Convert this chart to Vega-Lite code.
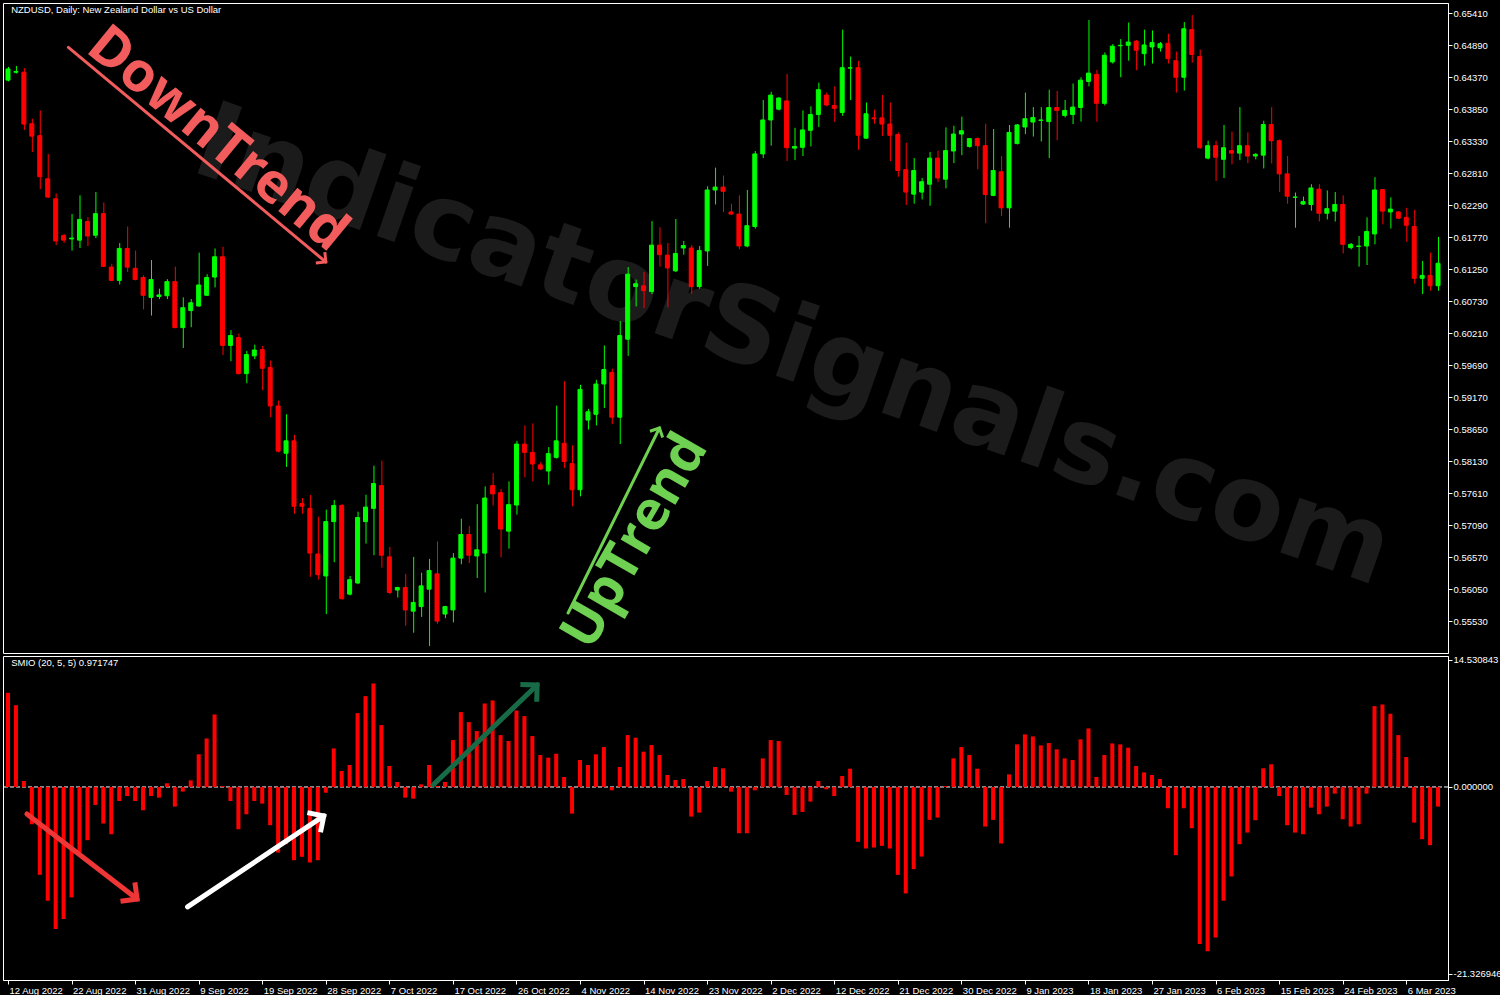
{
"$schema": "https://vega.github.io/schema/vega-lite/v6.json",
"background": "#000000",
"padding": {"left": 2, "top": 2, "right": 0, "bottom": 0},
"bounds": "flush",
"config": {
  "view": {"stroke": "#ffffff", "strokeWidth": 1, "fill": "#000000"},
  "axis": {"labelColor": "#ffffff", "tickColor": "#ffffff", "domainColor": "#ffffff", "labelFont": "Liberation Sans", "labelFontSize": 9.5, "grid": false, "tickSize": 4, "labelOverlap": false, "labelFlush": false, "labelBound": false}
},
"spacing": 3,
"datasets": {
"bars": [
{"i":0,"o":0.64319,"h":0.64534,"l":0.64298,"c":0.64501,"s":10.76},
{"i":1,"o":0.64447,"h":0.64548,"l":0.64427,"c":0.64460,"s":9.35},
{"i":2,"o":0.64447,"h":0.64514,"l":0.63510,"c":0.63605,"s":0.68},
{"i":3,"o":0.63611,"h":0.63692,"l":0.63153,"c":0.63409,"s":-4.26},
{"i":4,"o":0.63416,"h":0.63827,"l":0.62547,"c":0.62749,"s":-10.04},
{"i":5,"o":0.62716,"h":0.63120,"l":0.62406,"c":0.62419,"s":-13.0},
{"i":6,"o":0.62392,"h":0.62480,"l":0.61638,"c":0.61705,"s":-16.24},
{"i":7,"o":0.61793,"h":0.61820,"l":0.61672,"c":0.61719,"s":-15.1},
{"i":8,"o":0.61739,"h":0.62143,"l":0.61550,"c":0.61752,"s":-12.62},
{"i":9,"o":0.61719,"h":0.62446,"l":0.61591,"c":0.62055,"s":-7.49},
{"i":10,"o":0.62022,"h":0.62096,"l":0.61624,"c":0.61786,"s":-6.08},
{"i":11,"o":0.61799,"h":0.62500,"l":0.61752,"c":0.62150,"s":-2.05},
{"i":12,"o":0.62150,"h":0.62332,"l":0.61281,"c":0.61294,"s":-4.18},
{"i":13,"o":0.61281,"h":0.61335,"l":0.61052,"c":0.61065,"s":-5.40},
{"i":14,"o":0.61065,"h":0.61672,"l":0.60998,"c":0.61584,"s":-1.60},
{"i":15,"o":0.61584,"h":0.61941,"l":0.61200,"c":0.61281,"s":-1.03},
{"i":16,"o":0.61261,"h":0.61550,"l":0.61065,"c":0.61079,"s":-1.60},
{"i":17,"o":0.61112,"h":0.61146,"l":0.60594,"c":0.60823,"s":-2.66},
{"i":18,"o":0.60789,"h":0.61395,"l":0.60493,"c":0.61079,"s":-1.03},
{"i":19,"o":0.60803,"h":0.60930,"l":0.60762,"c":0.60829,"s":-1.22},
{"i":20,"o":0.60816,"h":0.61085,"l":0.60762,"c":0.61045,"s":0.42},
{"i":21,"o":0.61045,"h":0.61288,"l":0.60290,"c":0.60297,"s":-2.24},
{"i":22,"o":0.60297,"h":0.60789,"l":0.59967,"c":0.60621,"s":-0.53},
{"i":23,"o":0.60574,"h":0.60762,"l":0.60304,"c":0.60701,"s":0.76},
{"i":24,"o":0.60648,"h":0.61516,"l":0.60641,"c":0.60991,"s":3.73},
{"i":25,"o":0.60823,"h":0.61166,"l":0.60816,"c":0.61112,"s":5.55},
{"i":26,"o":0.61119,"h":0.61584,"l":0.60951,"c":0.61449,"s":8.29},
{"i":27,"o":0.61449,"h":0.61611,"l":0.59853,"c":0.60008,"s":0.11},
{"i":28,"o":0.60008,"h":0.60257,"l":0.59752,"c":0.60169,"s":-1.60},
{"i":29,"o":0.60136,"h":0.60203,"l":0.59536,"c":0.59550,"s":-4.83},
{"i":30,"o":0.59550,"h":0.59920,"l":0.59395,"c":0.59860,"s":-3.12},
{"i":31,"o":0.59839,"h":0.60021,"l":0.59785,"c":0.59934,"s":-1.60},
{"i":32,"o":0.59940,"h":0.60001,"l":0.59280,"c":0.59637,"s":-1.90},
{"i":33,"o":0.59651,"h":0.59765,"l":0.58842,"c":0.59024,"s":-4.37},
{"i":34,"o":0.59024,"h":0.59112,"l":0.58270,"c":0.58290,"s":-7.49},
{"i":35,"o":0.58256,"h":0.58889,"l":0.58034,"c":0.58458,"s":-6.54},
{"i":36,"o":0.58458,"h":0.58553,"l":0.57273,"c":0.57394,"s":-8.37},
{"i":37,"o":0.57441,"h":0.57529,"l":0.57273,"c":0.57394,"s":-7.98},
{"i":38,"o":0.57360,"h":0.57576,"l":0.56249,"c":0.56633,"s":-8.63},
{"i":39,"o":0.56619,"h":0.57226,"l":0.56202,"c":0.56283,"s":-8.37},
{"i":40,"o":0.56262,"h":0.57340,"l":0.55643,"c":0.57145,"s":-0.65},
{"i":41,"o":0.57145,"h":0.57495,"l":0.56485,"c":0.57408,"s":4.41},
{"i":42,"o":0.57408,"h":0.57428,"l":0.55879,"c":0.55892,"s":1.83},
{"i":43,"o":0.55966,"h":0.56262,"l":0.55946,"c":0.56202,"s":2.51},
{"i":44,"o":0.56148,"h":0.57307,"l":0.56128,"c":0.57212,"s":8.44},
{"i":45,"o":0.57145,"h":0.57583,"l":0.56788,"c":0.57381,"s":10.38},
{"i":46,"o":0.57360,"h":0.58054,"l":0.56599,"c":0.57765,"s":11.83},
{"i":47,"o":0.57731,"h":0.58135,"l":0.56397,"c":0.56599,"s":7.07},
{"i":48,"o":0.56572,"h":0.56734,"l":0.55966,"c":0.55993,"s":2.40},
{"i":49,"o":0.56033,"h":0.56087,"l":0.55912,"c":0.56074,"s":0.57},
{"i":50,"o":0.56074,"h":0.56296,"l":0.55454,"c":0.55710,"s":-1.22},
{"i":51,"o":0.55690,"h":0.56572,"l":0.55340,"c":0.55832,"s":-1.33},
{"i":52,"o":0.55764,"h":0.56316,"l":0.55596,"c":0.56101,"s":0.30},
{"i":53,"o":0.56047,"h":0.56539,"l":0.55124,"c":0.56350,"s":2.51},
{"i":54,"o":0.56296,"h":0.56822,"l":0.55488,"c":0.55528,"s":0.10},
{"i":55,"o":0.55643,"h":0.55777,"l":0.55575,"c":0.55764,"s":0.57},
{"i":56,"o":0.55710,"h":0.56633,"l":0.55508,"c":0.56552,"s":5.36},
{"i":57,"o":0.56552,"h":0.57192,"l":0.56451,"c":0.56936,"s":8.56},
{"i":58,"o":0.56936,"h":0.57077,"l":0.56471,"c":0.56599,"s":7.41},
{"i":59,"o":0.56586,"h":0.57428,"l":0.56229,"c":0.56687,"s":6.39},
{"i":60,"o":0.56633,"h":0.57718,"l":0.55993,"c":0.57529,"s":9.54},
{"i":61,"o":0.57731,"h":0.57933,"l":0.57408,"c":0.57596,"s":9.89},
{"i":62,"o":0.57616,"h":0.57677,"l":0.56566,"c":0.57024,"s":5.93},
{"i":63,"o":0.56990,"h":0.57798,"l":0.56707,"c":0.57421,"s":5.25},
{"i":64,"o":0.57414,"h":0.58458,"l":0.57259,"c":0.58405,"s":8.75},
{"i":65,"o":0.58405,"h":0.58708,"l":0.57866,"c":0.58270,"s":8.10},
{"i":66,"o":0.58270,"h":0.58741,"l":0.57798,"c":0.58081,"s":5.82},
{"i":67,"o":0.58068,"h":0.58115,"l":0.57980,"c":0.58000,"s":3.65},
{"i":68,"o":0.57967,"h":0.58357,"l":0.57745,"c":0.58250,"s":3.35},
{"i":69,"o":0.58189,"h":0.59031,"l":0.58169,"c":0.58458,"s":3.80},
{"i":70,"o":0.58418,"h":0.59428,"l":0.58014,"c":0.58122,"s":1.14},
{"i":71,"o":0.58088,"h":0.58384,"l":0.57394,"c":0.57663,"s":-3.04},
{"i":72,"o":0.57663,"h":0.59368,"l":0.57556,"c":0.59294,"s":3.08},
{"i":73,"o":0.58795,"h":0.58977,"l":0.58640,"c":0.58930,"s":2.51},
{"i":74,"o":0.58889,"h":0.59449,"l":0.58708,"c":0.59381,"s":3.73},
{"i":75,"o":0.59381,"h":0.60008,"l":0.58991,"c":0.59617,"s":4.56},
{"i":76,"o":0.59570,"h":0.59630,"l":0.58728,"c":0.58842,"s":-0.38},
{"i":77,"o":0.58842,"h":0.60405,"l":0.58405,"c":0.60169,"s":2.28},
{"i":78,"o":0.60109,"h":0.61281,"l":0.59839,"c":0.61166,"s":5.93},
{"i":79,"o":0.60964,"h":0.61079,"l":0.60641,"c":0.61011,"s":5.63},
{"i":80,"o":0.60978,"h":0.61200,"l":0.60614,"c":0.60897,"s":4.03},
{"i":81,"o":0.60883,"h":0.62028,"l":0.60843,"c":0.61638,"s":4.79},
{"i":82,"o":0.61638,"h":0.61927,"l":0.61288,"c":0.61483,"s":3.65},
{"i":83,"o":0.61476,"h":0.61672,"l":0.60627,"c":0.61267,"s":1.37},
{"i":84,"o":0.61220,"h":0.62062,"l":0.61200,"c":0.61503,"s":0.80},
{"i":85,"o":0.61591,"h":0.61705,"l":0.61483,"c":0.61631,"s":0.91},
{"i":86,"o":0.61591,"h":0.61638,"l":0.60850,"c":0.60964,"s":-3.38},
{"i":87,"o":0.60964,"h":0.61624,"l":0.60930,"c":0.61550,"s":-2.93},
{"i":88,"o":0.61543,"h":0.62594,"l":0.61301,"c":0.62534,"s":0.68},
{"i":89,"o":0.62534,"h":0.62897,"l":0.62298,"c":0.62581,"s":2.28},
{"i":90,"o":0.62581,"h":0.62769,"l":0.62177,"c":0.62513,"s":2.13},
{"i":91,"o":0.62177,"h":0.62311,"l":0.62129,"c":0.62143,"s":-0.53},
{"i":92,"o":0.62143,"h":0.62446,"l":0.61570,"c":0.61624,"s":-5.29},
{"i":93,"o":0.61624,"h":0.62534,"l":0.61604,"c":0.61954,"s":-5.29},
{"i":94,"o":0.61941,"h":0.63167,"l":0.61907,"c":0.63120,"s":-0.38},
{"i":95,"o":0.63120,"h":0.63995,"l":0.63052,"c":0.63672,"s":3.27},
{"i":96,"o":0.63672,"h":0.64130,"l":0.63254,"c":0.64076,"s":5.36},
{"i":97,"o":0.63847,"h":0.64043,"l":0.63827,"c":0.64029,"s":5.25},
{"i":98,"o":0.63982,"h":0.64420,"l":0.63005,"c":0.63221,"s":-0.91},
{"i":99,"o":0.63214,"h":0.63544,"l":0.63019,"c":0.63241,"s":-3.19},
{"i":100,"o":0.63227,"h":0.63827,"l":0.63086,"c":0.63510,"s":-2.85},
{"i":101,"o":0.63504,"h":0.63894,"l":0.63241,"c":0.63760,"s":-1.67},
{"i":102,"o":0.63760,"h":0.64278,"l":0.63557,"c":0.64164,"s":0.68},
{"i":103,"o":0.64076,"h":0.64117,"l":0.63894,"c":0.63915,"s":-0.27},
{"i":104,"o":0.63908,"h":0.64218,"l":0.63638,"c":0.63861,"s":-1.03},
{"i":105,"o":0.63793,"h":0.65140,"l":0.63739,"c":0.64521,"s":1.25},
{"i":106,"o":0.64514,"h":0.64703,"l":0.63995,"c":0.64521,"s":2.09},
{"i":107,"o":0.64521,"h":0.64635,"l":0.63187,"c":0.63423,"s":-6.27},
{"i":108,"o":0.63376,"h":0.63955,"l":0.63370,"c":0.63773,"s":-7.03},
{"i":109,"o":0.63706,"h":0.63840,"l":0.63611,"c":0.63692,"s":-6.92},
{"i":110,"o":0.63706,"h":0.64076,"l":0.63409,"c":0.63605,"s":-6.73},
{"i":111,"o":0.63605,"h":0.63955,"l":0.63005,"c":0.63423,"s":-7.03},
{"i":112,"o":0.63436,"h":0.63470,"l":0.62749,"c":0.62850,"s":-10.04},
{"i":113,"o":0.62864,"h":0.63301,"l":0.62291,"c":0.62500,"s":-12.17},
{"i":114,"o":0.62466,"h":0.63052,"l":0.62311,"c":0.62850,"s":-9.39},
{"i":115,"o":0.62500,"h":0.62729,"l":0.62379,"c":0.62668,"s":-7.95},
{"i":116,"o":0.62628,"h":0.63153,"l":0.62278,"c":0.63052,"s":-3.76},
{"i":117,"o":0.63052,"h":0.63174,"l":0.62662,"c":0.62729,"s":-3.50},
{"i":118,"o":0.62709,"h":0.63551,"l":0.62561,"c":0.63174,"s":0.11},
{"i":119,"o":0.63167,"h":0.63578,"l":0.62971,"c":0.63443,"s":3.27},
{"i":120,"o":0.63443,"h":0.63726,"l":0.63100,"c":0.63497,"s":4.56},
{"i":121,"o":0.63241,"h":0.63375,"l":0.63221,"c":0.63369,"s":3.65},
{"i":122,"o":0.63369,"h":0.63389,"l":0.62870,"c":0.63254,"s":2.09},
{"i":123,"o":0.63254,"h":0.63611,"l":0.61995,"c":0.62460,"s":-4.52},
{"i":124,"o":0.62446,"h":0.63524,"l":0.62433,"c":0.62850,"s":-3.76},
{"i":125,"o":0.62830,"h":0.63086,"l":0.62109,"c":0.62244,"s":-6.46},
{"i":126,"o":0.62244,"h":0.63591,"l":0.61921,"c":0.63470,"s":1.44},
{"i":127,"o":0.63288,"h":0.63605,"l":0.63275,"c":0.63591,"s":4.87},
{"i":128,"o":0.63557,"h":0.64117,"l":0.63443,"c":0.63692,"s":6.01},
{"i":129,"o":0.63638,"h":0.63881,"l":0.63403,"c":0.63713,"s":5.78},
{"i":130,"o":0.63665,"h":0.63881,"l":0.63322,"c":0.63672,"s":4.75},
{"i":131,"o":0.63645,"h":0.64164,"l":0.63052,"c":0.63874,"s":5.02},
{"i":132,"o":0.63874,"h":0.64144,"l":0.63342,"c":0.63827,"s":4.30},
{"i":133,"o":0.63746,"h":0.63995,"l":0.63713,"c":0.63827,"s":3.27},
{"i":134,"o":0.63760,"h":0.64265,"l":0.63605,"c":0.63881,"s":3.08},
{"i":135,"o":0.63874,"h":0.64366,"l":0.63645,"c":0.64319,"s":5.44},
{"i":136,"o":0.64298,"h":0.65295,"l":0.64218,"c":0.64433,"s":6.69},
{"i":137,"o":0.64413,"h":0.64487,"l":0.63645,"c":0.63942,"s":1.14},
{"i":138,"o":0.63942,"h":0.64770,"l":0.63908,"c":0.64723,"s":3.65},
{"i":139,"o":0.64615,"h":0.64905,"l":0.64588,"c":0.64871,"s":4.98},
{"i":140,"o":0.64878,"h":0.64986,"l":0.64366,"c":0.64885,"s":4.87},
{"i":141,"o":0.64885,"h":0.65255,"l":0.64635,"c":0.64938,"s":4.49},
{"i":142,"o":0.64952,"h":0.64972,"l":0.64480,"c":0.64804,"s":2.40},
{"i":143,"o":0.64750,"h":0.65140,"l":0.64554,"c":0.64891,"s":1.67},
{"i":144,"o":0.64858,"h":0.65127,"l":0.64588,"c":0.64932,"s":1.37},
{"i":145,"o":0.64844,"h":0.64938,"l":0.64783,"c":0.64911,"s":0.91},
{"i":146,"o":0.64918,"h":0.65073,"l":0.64588,"c":0.64669,"s":-2.43},
{"i":147,"o":0.64635,"h":0.64783,"l":0.64117,"c":0.64366,"s":-7.79},
{"i":148,"o":0.64366,"h":0.65262,"l":0.64150,"c":0.65154,"s":-2.43},
{"i":149,"o":0.65140,"h":0.65376,"l":0.64602,"c":0.64736,"s":-4.71},
{"i":150,"o":0.64703,"h":0.64817,"l":0.63207,"c":0.63221,"s":-17.95},
{"i":151,"o":0.63052,"h":0.63335,"l":0.63032,"c":0.63254,"s":-18.78},
{"i":152,"o":0.63254,"h":0.63335,"l":0.62682,"c":0.63066,"s":-17.19},
{"i":153,"o":0.63032,"h":0.63591,"l":0.62729,"c":0.63221,"s":-13.0},
{"i":154,"o":0.63174,"h":0.63483,"l":0.62951,"c":0.63133,"s":-10.23},
{"i":155,"o":0.63133,"h":0.63881,"l":0.63019,"c":0.63254,"s":-6.54},
{"i":156,"o":0.63254,"h":0.63470,"l":0.62971,"c":0.63086,"s":-5.21},
{"i":157,"o":0.63086,"h":0.63133,"l":0.63032,"c":0.63113,"s":-3.80},
{"i":158,"o":0.63100,"h":0.63659,"l":0.62884,"c":0.63598,"s":2.13},
{"i":159,"o":0.63598,"h":0.63881,"l":0.62965,"c":0.63335,"s":2.59},
{"i":160,"o":0.63335,"h":0.63355,"l":0.62500,"c":0.62796,"s":-1.03},
{"i":161,"o":0.62796,"h":0.63086,"l":0.62311,"c":0.62433,"s":-4.37},
{"i":162,"o":0.62415,"h":0.62493,"l":0.61921,"c":0.62419,"s":-5.21},
{"i":163,"o":0.62305,"h":0.62426,"l":0.62291,"c":0.62345,"s":-5.40},
{"i":164,"o":0.62298,"h":0.62628,"l":0.62197,"c":0.62567,"s":-2.36},
{"i":165,"o":0.62547,"h":0.62628,"l":0.62022,"c":0.62156,"s":-3.12},
{"i":166,"o":0.62156,"h":0.62527,"l":0.62055,"c":0.62231,"s":-2.24},
{"i":167,"o":0.62190,"h":0.62500,"l":0.62022,"c":0.62298,"s":-0.76},
{"i":168,"o":0.62298,"h":0.62446,"l":0.61503,"c":0.61651,"s":-3.69},
{"i":169,"o":0.61597,"h":0.61672,"l":0.61570,"c":0.61651,"s":-4.52},
{"i":170,"o":0.61617,"h":0.61786,"l":0.61288,"c":0.61624,"s":-4.26},
{"i":171,"o":0.61624,"h":0.62089,"l":0.61314,"c":0.61860,"s":-0.76},
{"i":172,"o":0.61820,"h":0.62743,"l":0.61651,"c":0.62534,"s":9.24},
{"i":173,"o":0.62541,"h":0.62547,"l":0.61975,"c":0.62190,"s":9.43},
{"i":174,"o":0.62177,"h":0.62415,"l":0.61907,"c":0.62224,"s":8.37},
{"i":175,"o":0.62177,"h":0.62190,"l":0.62062,"c":0.62076,"s":5.93},
{"i":176,"o":0.62089,"h":0.62244,"l":0.61692,"c":0.61961,"s":3.42},
{"i":177,"o":0.61941,"h":0.62210,"l":0.61012,"c":0.61099,"s":-4.07},
{"i":178,"o":0.61099,"h":0.61382,"l":0.60843,"c":0.61146,"s":-5.97},
{"i":179,"o":0.61146,"h":0.61516,"l":0.60897,"c":0.60978,"s":-6.65},
{"i":180,"o":0.60978,"h":0.61772,"l":0.60897,"c":0.61343,"s":-2.24}
]
},
"vconcat": [
{
"width": 1445, "height": 650,
"layer": [
{"data": {"values": [{"x": 98.8, "y": 0.5997, "t": "IndicatorSignals.com"}]},
 "mark": {"type": "text", "font": "DejaVu Sans", "fontWeight": "bold", "fontSize": 106, "angle": 19.3, "color": "#1b1b1b", "align": "center", "baseline": "middle"},
 "encoding": {
   "x": {"field": "x", "type": "quantitative", "scale": {"domain": [0, 180.625], "nice": false, "zero": false}, "axis": null},
   "y": {"field": "y", "type": "quantitative", "scale": {"domain": [0.5501, 0.655725], "nice": false, "zero": false}, "axis": {"orient": "right", "title": null, "values": [0.6541,0.6489,0.6437,0.6385,0.6333,0.6281,0.6229,0.6177,0.6125,0.6073,0.6021,0.5969,0.5917,0.5865,0.5813,0.5761,0.5709,0.5657,0.5605,0.5553], "format": ".5f", "labelPadding": 1, "labelBaseline": "middle"}},
   "text": {"field": "t"}}},
{"data": {"values": [{"x": 0.4, "y": 0.65459, "t": "NZDUSD, Daily:  New Zealand Dollar vs US Dollar"}]},
 "mark": {"type": "text", "font": "Liberation Sans", "fontSize": 9.5, "color": "#ffffff", "align": "left", "baseline": "middle"},
 "encoding": {
   "x": {"field": "x", "type": "quantitative", "scale": {"domain": [0, 180.625], "nice": false, "zero": false}, "axis": null},
   "y": {"field": "y", "type": "quantitative", "scale": {"domain": [0.5501, 0.655725], "nice": false, "zero": false}, "axis": {"orient": "right", "title": null, "values": [0.6541,0.6489,0.6437,0.6385,0.6333,0.6281,0.6229,0.6177,0.6125,0.6073,0.6021,0.5969,0.5917,0.5865,0.5813,0.5761,0.5709,0.5657,0.5605,0.5553], "format": ".5f", "labelPadding": 1, "labelBaseline": "middle"}},
   "text": {"field": "t"}}},
{"data": {"name": "bars"},
 "mark": {"type": "rule", "strokeWidth": 1, "clip": true, "xOffset": 0.5},
 "encoding": {
   "x": {"field": "i", "type": "quantitative", "scale": {"domain": [0, 180.625], "nice": false, "zero": false}, "axis": null},
   "y": {"field": "l", "type": "quantitative", "scale": {"domain": [0.5501, 0.655725], "nice": false, "zero": false}, "axis": {"orient": "right", "title": null, "values": [0.6541,0.6489,0.6437,0.6385,0.6333,0.6281,0.6229,0.6177,0.6125,0.6073,0.6021,0.5969,0.5917,0.5865,0.5813,0.5761,0.5709,0.5657,0.5605,0.5553], "format": ".5f", "labelPadding": 1, "labelBaseline": "middle"}},
   "y2": {"field": "h"},
   "color": {"condition": {"test": "datum.c >= datum.o", "value": "#00ff00"}, "value": "#ff0000"}}},
{"data": {"name": "bars"},
 "mark": {"type": "bar", "width": 4, "strokeWidth": 1, "clip": true},
 "encoding": {
   "x": {"field": "i", "type": "quantitative", "scale": {"domain": [0, 180.625], "nice": false, "zero": false}, "axis": null},
   "y": {"field": "o", "type": "quantitative", "scale": {"domain": [0.5501, 0.655725], "nice": false, "zero": false}, "axis": {"orient": "right", "title": null, "values": [0.6541,0.6489,0.6437,0.6385,0.6333,0.6281,0.6229,0.6177,0.6125,0.6073,0.6021,0.5969,0.5917,0.5865,0.5813,0.5761,0.5709,0.5657,0.5605,0.5553], "format": ".5f", "labelPadding": 1, "labelBaseline": "middle"}},
   "y2": {"field": "c"},
   "color": {"condition": {"test": "datum.c >= datum.o", "value": "#00ff00"}, "value": "#ff0000"},
   "stroke": {"condition": {"test": "datum.c >= datum.o", "value": "#00ff00"}, "value": "#ff0000"}}},
{"data": {"values": [{"x": 7.6, "y": 0.64851, "x2": 40, "y2": 0.61364}]},
 "mark": {"type": "rule", "strokeWidth": 3, "color": "#f25c5c", "strokeCap": "round"},
 "encoding": {
   "x": {"field": "x", "type": "quantitative", "scale": {"domain": [0, 180.625], "nice": false, "zero": false}, "axis": null},
   "y": {"field": "y", "type": "quantitative", "scale": {"domain": [0.5501, 0.655725], "nice": false, "zero": false}, "axis": {"orient": "right", "title": null, "values": [0.6541,0.6489,0.6437,0.6385,0.6333,0.6281,0.6229,0.6177,0.6125,0.6073,0.6021,0.5969,0.5917,0.5865,0.5813,0.5761,0.5709,0.5657,0.5605,0.5553], "format": ".5f", "labelPadding": 1, "labelBaseline": "middle"}},
   "x2": {"field": "x2"}, "y2": {"field": "y2"}}},
{"data": {"values": [{"x": 40, "y": 0.61364}]},
 "mark": {"type": "point", "shape": "M-1,-1L0,0L-1,1", "filled": false, "stroke": "#f25c5c", "strokeWidth": 3, "size": 200, "angle": 39.7, "opacity": 1},
 "encoding": {
   "x": {"field": "x", "type": "quantitative", "scale": {"domain": [0, 180.625], "nice": false, "zero": false}, "axis": null},
   "y": {"field": "y", "type": "quantitative", "scale": {"domain": [0.5501, 0.655725], "nice": false, "zero": false}, "axis": {"orient": "right", "title": null, "values": [0.6541,0.6489,0.6437,0.6385,0.6333,0.6281,0.6229,0.6177,0.6125,0.6073,0.6021,0.5969,0.5917,0.5865,0.5813,0.5761,0.5709,0.5657,0.5605,0.5553], "format": ".5f", "labelPadding": 1, "labelBaseline": "middle"}}}},
{"data": {"values": [{"x": 26.4, "y": 0.63363, "t": "DownTrend"}]},
 "mark": {"type": "text", "font": "Open Sans", "fontWeight": "bold", "fontSize": 55, "angle": 39.5, "color": "#f25c5c", "align": "center", "baseline": "middle"},
 "encoding": {
   "x": {"field": "x", "type": "quantitative", "scale": {"domain": [0, 180.625], "nice": false, "zero": false}, "axis": null},
   "y": {"field": "y", "type": "quantitative", "scale": {"domain": [0.5501, 0.655725], "nice": false, "zero": false}, "axis": {"orient": "right", "title": null, "values": [0.6541,0.6489,0.6437,0.6385,0.6333,0.6281,0.6229,0.6177,0.6125,0.6073,0.6021,0.5969,0.5917,0.5865,0.5813,0.5761,0.5709,0.5657,0.5605,0.5553], "format": ".5f", "labelPadding": 1, "labelBaseline": "middle"}},
   "text": {"field": "t"}}},
{"data": {"values": [{"x": 70.5, "y": 0.5566, "x2": 82, "y2": 0.58666}]},
 "mark": {"type": "rule", "strokeWidth": 3, "color": "#6fd152", "strokeCap": "round"},
 "encoding": {
   "x": {"field": "x", "type": "quantitative", "scale": {"domain": [0, 180.625], "nice": false, "zero": false}, "axis": null},
   "y": {"field": "y", "type": "quantitative", "scale": {"domain": [0.5501, 0.655725], "nice": false, "zero": false}, "axis": {"orient": "right", "title": null, "values": [0.6541,0.6489,0.6437,0.6385,0.6333,0.6281,0.6229,0.6177,0.6125,0.6073,0.6021,0.5969,0.5917,0.5865,0.5813,0.5761,0.5709,0.5657,0.5605,0.5553], "format": ".5f", "labelPadding": 1, "labelBaseline": "middle"}},
   "x2": {"field": "x2"}, "y2": {"field": "y2"}}},
{"data": {"values": [{"x": 82, "y": 0.58666}]},
 "mark": {"type": "point", "shape": "M-1,-1L0,0L-1,1", "filled": false, "stroke": "#6fd152", "strokeWidth": 3, "size": 200, "angle": 296.4, "opacity": 1},
 "encoding": {
   "x": {"field": "x", "type": "quantitative", "scale": {"domain": [0, 180.625], "nice": false, "zero": false}, "axis": null},
   "y": {"field": "y", "type": "quantitative", "scale": {"domain": [0.5501, 0.655725], "nice": false, "zero": false}, "axis": {"orient": "right", "title": null, "values": [0.6541,0.6489,0.6437,0.6385,0.6333,0.6281,0.6229,0.6177,0.6125,0.6073,0.6021,0.5969,0.5917,0.5865,0.5813,0.5761,0.5709,0.5657,0.5605,0.5553], "format": ".5f", "labelPadding": 1, "labelBaseline": "middle"}}}},
{"data": {"values": [{"x": 78.9, "y": 0.5683, "t": "UpTrend"}]},
 "mark": {"type": "text", "font": "Open Sans", "fontWeight": "bold", "fontSize": 55, "angle": 300, "color": "#6fd152", "align": "center", "baseline": "middle"},
 "encoding": {
   "x": {"field": "x", "type": "quantitative", "scale": {"domain": [0, 180.625], "nice": false, "zero": false}, "axis": null},
   "y": {"field": "y", "type": "quantitative", "scale": {"domain": [0.5501, 0.655725], "nice": false, "zero": false}, "axis": {"orient": "right", "title": null, "values": [0.6541,0.6489,0.6437,0.6385,0.6333,0.6281,0.6229,0.6177,0.6125,0.6073,0.6021,0.5969,0.5917,0.5865,0.5813,0.5761,0.5709,0.5657,0.5605,0.5553], "format": ".5f", "labelPadding": 1, "labelBaseline": "middle"}},
   "text": {"field": "t"}}}
]
},
{
"width": 1445, "height": 324,
"layer": [
{"data": {"values": [{"x": 90, "y": 0}]},
 "mark": {"type": "rule", "color": "#ffffff", "strokeWidth": 1, "strokeDash": [4, 2]},
 "encoding": {
   "y": {"field": "y", "type": "quantitative", "scale": {"domain": [-22.06, 14.97], "nice": false, "zero": false},
         "axis": {"orient": "right", "title": null, "values": [14.530843, 0, -21.326946], "labelExpr": "replace(format(datum.value, '.6f'), '\u2212', '-')", "labelPadding": 1, "labelBaseline": "middle"}}}},
{"data": {"name": "bars"},
 "mark": {"type": "bar", "width": 4, "color": "#ff0000", "clip": true},
 "encoding": {
   "x": {"field": "i", "type": "quantitative", "scale": {"domain": [0, 180.625], "nice": false, "zero": false},
         "axis": {"orient": "bottom", "title": null, "values": [0,8,16,24,32,40,48,56,64,72,80,88,96,104,112,120,128,136,144,152,160,168,176], "labelAlign": "left", "labelBaseline": "top", "labelPadding": 1, "labelOffset": 1, "tickSize": 4,
                  "labelExpr": "['12 Aug 2022','22 Aug 2022','31 Aug 2022','9 Sep 2022','19 Sep 2022','28 Sep 2022','7 Oct 2022','17 Oct 2022','26 Oct 2022','4 Nov 2022','14 Nov 2022','23 Nov 2022','2 Dec 2022','12 Dec 2022','21 Dec 2022','30 Dec 2022','9 Jan 2023','18 Jan 2023','27 Jan 2023','6 Feb 2023','15 Feb 2023','24 Feb 2023','6 Mar 2023'][round(datum.value/8)]"}},
   "y": {"field": "s", "type": "quantitative", "scale": {"domain": [-22.06, 14.97], "nice": false, "zero": false},
         "axis": {"orient": "right", "title": null, "values": [14.530843, 0, -21.326946], "labelExpr": "replace(format(datum.value, '.6f'), '\u2212', '-')", "labelPadding": 1, "labelBaseline": "middle"}},
   "y2": {"datum": 0}}},
{"data": {"values": [{"x": 0.4, "y": 14.17, "t": "SMIO (20, 5, 5) 0.971747"}]},
 "mark": {"type": "text", "font": "Liberation Sans", "fontSize": 9.5, "color": "#ffffff", "align": "left", "baseline": "middle"},
 "encoding": {
   "x": {"field": "x", "type": "quantitative", "scale": {"domain": [0, 180.625], "nice": false, "zero": false},
         "axis": {"orient": "bottom", "title": null, "values": [0,8,16,24,32,40,48,56,64,72,80,88,96,104,112,120,128,136,144,152,160,168,176], "labelAlign": "left", "labelBaseline": "top", "labelPadding": 1, "labelOffset": 1, "tickSize": 4,
                  "labelExpr": "['12 Aug 2022','22 Aug 2022','31 Aug 2022','9 Sep 2022','19 Sep 2022','28 Sep 2022','7 Oct 2022','17 Oct 2022','26 Oct 2022','4 Nov 2022','14 Nov 2022','23 Nov 2022','2 Dec 2022','12 Dec 2022','21 Dec 2022','30 Dec 2022','9 Jan 2023','18 Jan 2023','27 Jan 2023','6 Feb 2023','15 Feb 2023','24 Feb 2023','6 Mar 2023'][round(datum.value/8)]"}},
   "y": {"field": "y", "type": "quantitative", "scale": {"domain": [-22.06, 14.97], "nice": false, "zero": false},
         "axis": {"orient": "right", "title": null, "values": [14.530843, 0, -21.326946], "labelExpr": "replace(format(datum.value, '.6f'), '\u2212', '-')", "labelPadding": 1, "labelBaseline": "middle"}},
   "text": {"field": "t"}}},
{"data": {"values": [{"x": 2.375, "y": -3.09, "x2": 16.25, "y2": -12.8}]},
 "mark": {"type": "rule", "strokeWidth": 5, "color": "#ee3636", "strokeCap": "round"},
 "encoding": {
   "x": {"field": "x", "type": "quantitative", "scale": {"domain": [0, 180.625], "nice": false, "zero": false},
         "axis": {"orient": "bottom", "title": null, "values": [0,8,16,24,32,40,48,56,64,72,80,88,96,104,112,120,128,136,144,152,160,168,176], "labelAlign": "left", "labelBaseline": "top", "labelPadding": 1, "labelOffset": 1, "tickSize": 4,
                  "labelExpr": "['12 Aug 2022','22 Aug 2022','31 Aug 2022','9 Sep 2022','19 Sep 2022','28 Sep 2022','7 Oct 2022','17 Oct 2022','26 Oct 2022','4 Nov 2022','14 Nov 2022','23 Nov 2022','2 Dec 2022','12 Dec 2022','21 Dec 2022','30 Dec 2022','9 Jan 2023','18 Jan 2023','27 Jan 2023','6 Feb 2023','15 Feb 2023','24 Feb 2023','6 Mar 2023'][round(datum.value/8)]"}},
   "y": {"field": "y", "type": "quantitative", "scale": {"domain": [-22.06, 14.97], "nice": false, "zero": false},
         "axis": {"orient": "right", "title": null, "values": [14.530843, 0, -21.326946], "labelExpr": "replace(format(datum.value, '.6f'), '\u2212', '-')", "labelPadding": 1, "labelBaseline": "middle"}},
   "x2": {"field": "x2"}, "y2": {"field": "y2"}}},
{"data": {"values": [{"x": 16.25, "y": -12.8}]},
 "mark": {"type": "point", "shape": "M-1,-1L0,0L-1,1", "filled": false, "stroke": "#ee3636", "strokeWidth": 5, "size": 560, "angle": 37.4, "opacity": 1},
 "encoding": {
   "x": {"field": "x", "type": "quantitative", "scale": {"domain": [0, 180.625], "nice": false, "zero": false},
         "axis": {"orient": "bottom", "title": null, "values": [0,8,16,24,32,40,48,56,64,72,80,88,96,104,112,120,128,136,144,152,160,168,176], "labelAlign": "left", "labelBaseline": "top", "labelPadding": 1, "labelOffset": 1, "tickSize": 4,
                  "labelExpr": "['12 Aug 2022','22 Aug 2022','31 Aug 2022','9 Sep 2022','19 Sep 2022','28 Sep 2022','7 Oct 2022','17 Oct 2022','26 Oct 2022','4 Nov 2022','14 Nov 2022','23 Nov 2022','2 Dec 2022','12 Dec 2022','21 Dec 2022','30 Dec 2022','9 Jan 2023','18 Jan 2023','27 Jan 2023','6 Feb 2023','15 Feb 2023','24 Feb 2023','6 Mar 2023'][round(datum.value/8)]"}},
   "y": {"field": "y", "type": "quantitative", "scale": {"domain": [-22.06, 14.97], "nice": false, "zero": false},
         "axis": {"orient": "right", "title": null, "values": [14.530843, 0, -21.326946], "labelExpr": "replace(format(datum.value, '.6f'), '\u2212', '-')", "labelPadding": 1, "labelBaseline": "middle"}}}},
{"data": {"values": [{"x": 22.6, "y": -13.71, "x2": 39.75, "y2": -3.31}]},
 "mark": {"type": "rule", "strokeWidth": 5, "color": "#ffffff", "strokeCap": "round"},
 "encoding": {
   "x": {"field": "x", "type": "quantitative", "scale": {"domain": [0, 180.625], "nice": false, "zero": false},
         "axis": {"orient": "bottom", "title": null, "values": [0,8,16,24,32,40,48,56,64,72,80,88,96,104,112,120,128,136,144,152,160,168,176], "labelAlign": "left", "labelBaseline": "top", "labelPadding": 1, "labelOffset": 1, "tickSize": 4,
                  "labelExpr": "['12 Aug 2022','22 Aug 2022','31 Aug 2022','9 Sep 2022','19 Sep 2022','28 Sep 2022','7 Oct 2022','17 Oct 2022','26 Oct 2022','4 Nov 2022','14 Nov 2022','23 Nov 2022','2 Dec 2022','12 Dec 2022','21 Dec 2022','30 Dec 2022','9 Jan 2023','18 Jan 2023','27 Jan 2023','6 Feb 2023','15 Feb 2023','24 Feb 2023','6 Mar 2023'][round(datum.value/8)]"}},
   "y": {"field": "y", "type": "quantitative", "scale": {"domain": [-22.06, 14.97], "nice": false, "zero": false},
         "axis": {"orient": "right", "title": null, "values": [14.530843, 0, -21.326946], "labelExpr": "replace(format(datum.value, '.6f'), '\u2212', '-')", "labelPadding": 1, "labelBaseline": "middle"}},
   "x2": {"field": "x2"}, "y2": {"field": "y2"}}},
{"data": {"values": [{"x": 39.75, "y": -3.31}]},
 "mark": {"type": "point", "shape": "M-1,-1L0,0L-1,1", "filled": false, "stroke": "#ffffff", "strokeWidth": 5, "size": 560, "angle": 326.4, "opacity": 1},
 "encoding": {
   "x": {"field": "x", "type": "quantitative", "scale": {"domain": [0, 180.625], "nice": false, "zero": false},
         "axis": {"orient": "bottom", "title": null, "values": [0,8,16,24,32,40,48,56,64,72,80,88,96,104,112,120,128,136,144,152,160,168,176], "labelAlign": "left", "labelBaseline": "top", "labelPadding": 1, "labelOffset": 1, "tickSize": 4,
                  "labelExpr": "['12 Aug 2022','22 Aug 2022','31 Aug 2022','9 Sep 2022','19 Sep 2022','28 Sep 2022','7 Oct 2022','17 Oct 2022','26 Oct 2022','4 Nov 2022','14 Nov 2022','23 Nov 2022','2 Dec 2022','12 Dec 2022','21 Dec 2022','30 Dec 2022','9 Jan 2023','18 Jan 2023','27 Jan 2023','6 Feb 2023','15 Feb 2023','24 Feb 2023','6 Mar 2023'][round(datum.value/8)]"}},
   "y": {"field": "y", "type": "quantitative", "scale": {"domain": [-22.06, 14.97], "nice": false, "zero": false},
         "axis": {"orient": "right", "title": null, "values": [14.530843, 0, -21.326946], "labelExpr": "replace(format(datum.value, '.6f'), '\u2212', '-')", "labelPadding": 1, "labelBaseline": "middle"}}}},
{"data": {"values": [{"x": 53.5, "y": 0.23, "x2": 66.6, "y2": 11.66}]},
 "mark": {"type": "rule", "strokeWidth": 5, "color": "#176b47", "strokeCap": "round"},
 "encoding": {
   "x": {"field": "x", "type": "quantitative", "scale": {"domain": [0, 180.625], "nice": false, "zero": false},
         "axis": {"orient": "bottom", "title": null, "values": [0,8,16,24,32,40,48,56,64,72,80,88,96,104,112,120,128,136,144,152,160,168,176], "labelAlign": "left", "labelBaseline": "top", "labelPadding": 1, "labelOffset": 1, "tickSize": 4,
                  "labelExpr": "['12 Aug 2022','22 Aug 2022','31 Aug 2022','9 Sep 2022','19 Sep 2022','28 Sep 2022','7 Oct 2022','17 Oct 2022','26 Oct 2022','4 Nov 2022','14 Nov 2022','23 Nov 2022','2 Dec 2022','12 Dec 2022','21 Dec 2022','30 Dec 2022','9 Jan 2023','18 Jan 2023','27 Jan 2023','6 Feb 2023','15 Feb 2023','24 Feb 2023','6 Mar 2023'][round(datum.value/8)]"}},
   "y": {"field": "y", "type": "quantitative", "scale": {"domain": [-22.06, 14.97], "nice": false, "zero": false},
         "axis": {"orient": "right", "title": null, "values": [14.530843, 0, -21.326946], "labelExpr": "replace(format(datum.value, '.6f'), '\u2212', '-')", "labelPadding": 1, "labelBaseline": "middle"}},
   "x2": {"field": "x2"}, "y2": {"field": "y2"}}},
{"data": {"values": [{"x": 66.6, "y": 11.66}]},
 "mark": {"type": "point", "shape": "M-1,-1L0,0L-1,1", "filled": false, "stroke": "#176b47", "strokeWidth": 5, "size": 560, "angle": 316.4, "opacity": 1},
 "encoding": {
   "x": {"field": "x", "type": "quantitative", "scale": {"domain": [0, 180.625], "nice": false, "zero": false},
         "axis": {"orient": "bottom", "title": null, "values": [0,8,16,24,32,40,48,56,64,72,80,88,96,104,112,120,128,136,144,152,160,168,176], "labelAlign": "left", "labelBaseline": "top", "labelPadding": 1, "labelOffset": 1, "tickSize": 4,
                  "labelExpr": "['12 Aug 2022','22 Aug 2022','31 Aug 2022','9 Sep 2022','19 Sep 2022','28 Sep 2022','7 Oct 2022','17 Oct 2022','26 Oct 2022','4 Nov 2022','14 Nov 2022','23 Nov 2022','2 Dec 2022','12 Dec 2022','21 Dec 2022','30 Dec 2022','9 Jan 2023','18 Jan 2023','27 Jan 2023','6 Feb 2023','15 Feb 2023','24 Feb 2023','6 Mar 2023'][round(datum.value/8)]"}},
   "y": {"field": "y", "type": "quantitative", "scale": {"domain": [-22.06, 14.97], "nice": false, "zero": false},
         "axis": {"orient": "right", "title": null, "values": [14.530843, 0, -21.326946], "labelExpr": "replace(format(datum.value, '.6f'), '\u2212', '-')", "labelPadding": 1, "labelBaseline": "middle"}}}}
]
}
]
}
